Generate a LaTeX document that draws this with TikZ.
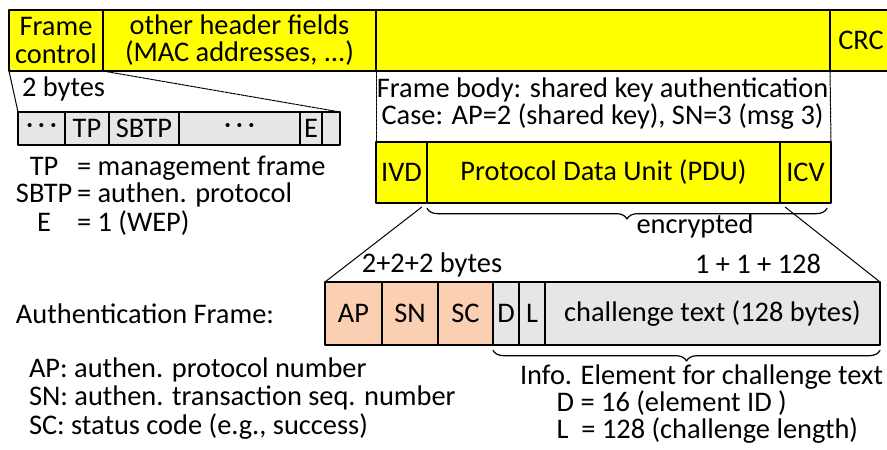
\documentclass[tikz,border=0pt]{standalone}
\usepackage{fontspec}
\setmainfont{Carlito}
\usetikzlibrary{decorations.pathreplacing}

\definecolor{hdryellow}{RGB}{255,255,0}
\definecolor{authpeach}{RGB}{251,207,178}
\definecolor{fieldgray}{RGB}{230,230,230}
\newcommand\pxu{0.75pt}

\begin{document}
\begin{tikzpicture}[x=0.75pt, y=-0.75pt, line cap=round, line join=round,
  font=\fontsize{21.3}{20.3}\selectfont,
  cell/.style={draw, inner sep=0pt, outer sep=0pt, align=center},
  wd/.style={minimum width=#1*\pxu},
  hdr/.style={cell, fill=hdryellow, line width=1.1pt, minimum height=61*\pxu},
  fcbits/.style={cell, fill=fieldgray, line width=0.8pt, minimum height=33*\pxu},
  authf/.style={cell, fill=authpeach, line width=0.9pt, minimum height=63*\pxu},
  ief/.style={cell, fill=fieldgray, line width=0.9pt, minimum height=63*\pxu},
  txt/.style={inner sep=0pt, outer sep=0pt},
  zoomline/.style={line width=0.75pt},
  zoomdash/.style={line width=0.75pt, dash pattern=on 2.2pt off 0.8pt},
  bracef/.style={line width=0.9pt, decorate, decoration={brace, mirror, amplitude=8pt}}]

  \useasboundingbox (0,0) rectangle (887,449);

  %% ---- MAC frame ----
  \node[hdr, wd=94]  (fc)   at (56,40.5)    {Frame\\control};
  \node[hdr, wd=273] (oh)   at (239.5,40.5) {other header fields\\(MAC addresses, ...)};
  \node[hdr, wd=454] (body) at (603,40.5)   {};
  \node[hdr, wd=62]  (crc)  at (861,40.5)   {CRC};

  %% ---- frame control bits ----
  \node[fcbits, wd=47]  (fc1) at (41.5,128.5)  {·\,·\,·};
  \node[fcbits, wd=44]  (fc2) at (87,128.5)    {TP};
  \node[fcbits, wd=70]  (fc3) at (144,128.5)   {SBTP};
  \node[fcbits, wd=121] (fc4) at (239.5,128.5) {·\,·\,·};
  \node[fcbits, wd=22]  (fc5) at (311,128.5)   {E};
  \node[fcbits, wd=18]  (fc6) at (331,128.5)   {};

  \draw[zoomline] (fc.south west) -- (fc1.north west);
  \draw[zoomdash] (fc.south east) -- (fc6.north east);
  \node[txt, anchor=base west] (twob) at (22,97) {2 bytes};

  \node[txt, anchor=base west] (fclegend) at (16,175)
    {\begin{tabular}[t]{@{}c@{\,}l@{}}
       TP   & = management frame\\
       SBTP & = authen. protocol\\
       E    & = 1 (WEP)
     \end{tabular}};

  %% ---- frame body ----
  \node[txt, align=center, anchor=north] (bodyt) at (602.5,78)
    {Frame body: shared key authentication\\
     Case: AP=2 (shared key), SN=3 (msg 3)};

  \node[hdr, wd=51]  (ivd) at (401.5,172.5) {IVD};
  \node[hdr, wd=353] (pdu) at (603.5,172.5) {Protocol Data Unit (PDU)};
  \node[hdr, wd=51]  (icv) at (805.5,172.5) {ICV};

  \draw[zoomdash] (body.south west) -- (ivd.north west);
  \draw[zoomdash] (body.south east) -- (icv.north east);

  \draw[bracef] ([yshift=-4pt]pdu.south west) -- ([xshift=-3pt, yshift=-4pt]icv.south east);
  \node[txt, anchor=base] (encr) at (695,233) {encrypted};

  %% ---- authentication frame ----
  \node[txt, anchor=base west] (authlbl) at (16,323) {Authentication Frame:};

  \node[authf, wd=57]  (ap) at (353.5,313.5) {AP};
  \node[authf, wd=56]  (sn) at (410,313.5)   {SN};
  \node[authf, wd=55]  (sc) at (465.5,313.5) {SC};
  \node[ief, wd=26]    (d)  at (506,313.5)   {D};
  \node[ief, wd=26]    (l)  at (532,313.5)   {L};
  \node[ief, wd=335]   (ch) at (712.5,313.5) {challenge text (128 bytes)};

  \draw[zoomline, shorten <=5pt] (ivd.south east) -- (ap.north west);
  \draw[zoomline, shorten <=5pt] (icv.south west) -- (ch.north east);

  \node[txt, anchor=base] (fixlen) at (432,272) {2+2+2 bytes};
  \node[txt, anchor=base] (ielen)  at (758,273) {1 + 1 + 128};

  \node[txt, anchor=base west] (authlegend) at (29,377)
    {\renewcommand\arraystretch{1.03}\begin{tabular}[t]{@{}l@{}}
       AP: authen. protocol number\\
       SN: authen. transaction seq. number\\
       SC: status code (e.g., success)
     \end{tabular}};

  \draw[bracef] ([yshift=-4pt]d.south west) -- ([yshift=-4pt]ch.south east);
  \node[txt, align=left, anchor=north west] (ielegend) at (520,365)
    {Info. Element for challenge text\\
     \hspace*{27.5pt}D = 16 (element ID )\\
     \hspace*{27.5pt}L\ \ = 128 (challenge length)};

\end{tikzpicture}
\end{document}
